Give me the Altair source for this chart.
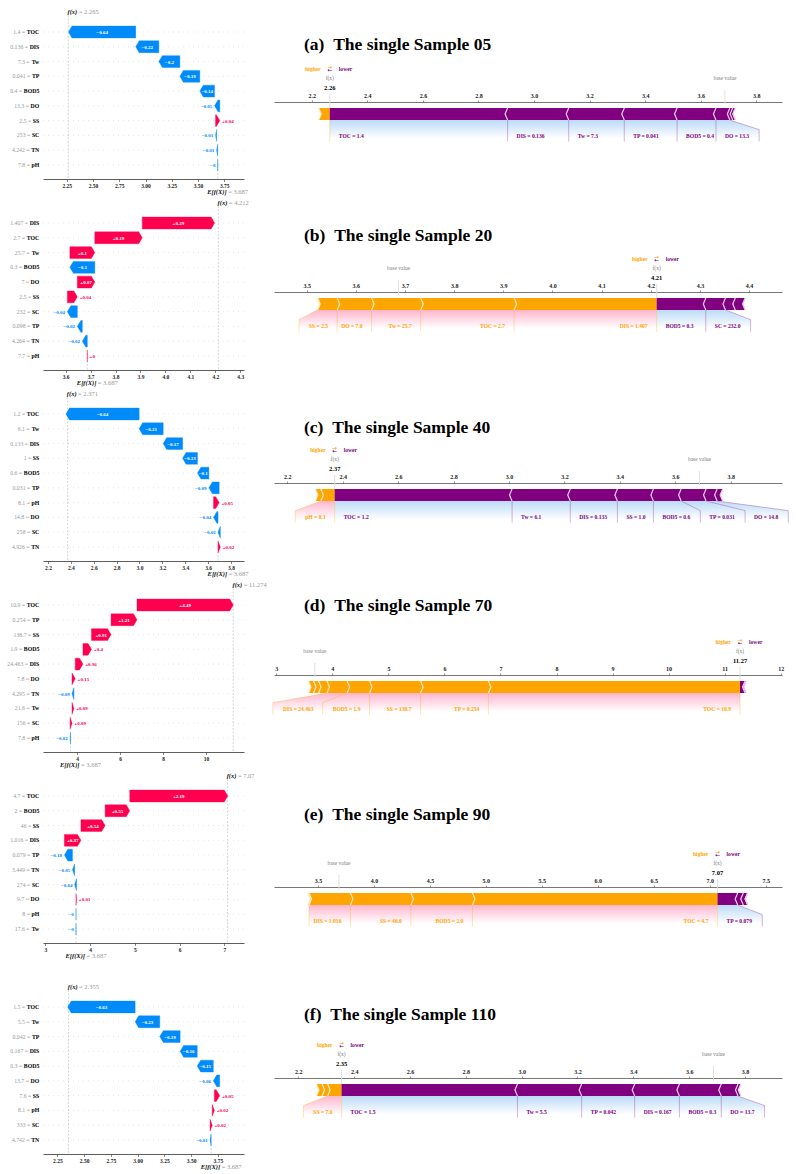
import math

import altair as alt
import pandas as pd

# ------------------------------------------------------------------ data
BASE_VALUE = 3.687  # E[f(X)], shared by every sample

# Sample 05
FEAT_05 = ["TOC", "DIS", "Tw", "TP", "BOD5", "DO", "SS", "SC", "TN", "pH"]
SHAP_05 = [-0.64, -0.22, -0.2, -0.19, -0.14, -0.05, 0.04, -0.01, -0.01, -0.0]
VALUE_05 = [1.4, 0.136, 7.3, 0.041, 0.4, 13.3, 2.5, 253.0, 4.242, 7.8]
FX_05 = 2.2648
WF_TICKS_05 = [2.25, 2.5, 2.75, 3.0, 3.25, 3.5, 3.75]
FP_TICKS_05 = [2.2, 2.4, 2.6, 2.8, 3.0, 3.2, 3.4, 3.6, 3.8]

# Sample 20
FEAT_20 = ["DIS", "TOC", "Tw", "BOD5", "DO", "SS", "SC", "TP", "TN", "pH"]
SHAP_20 = [0.29, 0.19, 0.1, -0.1, 0.07, 0.04, -0.04, -0.02, -0.02, 0.0]
VALUE_20 = [1.407, 2.7, 25.7, 0.3, 7.0, 2.5, 232.0, 0.098, 4.264, 7.7]
FX_20 = 4.212
WF_TICKS_20 = [3.6, 3.7, 3.8, 3.9, 4.0, 4.1, 4.2, 4.3]
FP_TICKS_20 = [3.5, 3.6, 3.7, 3.8, 3.9, 4.0, 4.1, 4.2, 4.3, 4.4]

# Sample 40
FEAT_40 = ["TOC", "Tw", "DIS", "SS", "BOD5", "TP", "pH", "DO", "SC", "TN"]
SHAP_40 = [-0.64, -0.21, -0.17, -0.13, -0.1, -0.09, 0.05, -0.04, -0.02, 0.02]
VALUE_40 = [1.2, 6.1, 0.133, 1.0, 0.6, 0.031, 8.1, 14.8, 258.0, 4.926]
FX_40 = 2.371
WF_TICKS_40 = [2.2, 2.4, 2.6, 2.8, 3.0, 3.2, 3.4, 3.6, 3.8]
FP_TICKS_40 = [2.2, 2.4, 2.6, 2.8, 3.0, 3.2, 3.4, 3.6, 3.8]

# Sample 70
FEAT_70 = ["TOC", "TP", "SS", "BOD5", "DIS", "DO", "TN", "Tw", "SC", "pH"]
SHAP_70 = [4.49, 1.21, 0.91, 0.4, 0.36, 0.15, -0.09, 0.09, 0.09, -0.02]
VALUE_70 = [10.9, 0.254, 138.7, 1.9, 24.463, 7.8, 4.295, 21.6, 156.0, 7.8]
FX_70 = 11.274
WF_TICKS_70 = [4, 6, 8, 10]
FP_TICKS_70 = [3, 4, 5, 6, 7, 8, 9, 10, 11, 12]

# Sample 90
FEAT_90 = ["TOC", "BOD5", "SS", "DIS", "TP", "TN", "SC", "DO", "pH", "Tw"]
SHAP_90 = [2.19, 0.55, 0.54, 0.37, -0.18, -0.05, -0.04, 0.01, -0.0, -0.0]
VALUE_90 = [4.7, 2.0, 46.0, 1.016, 0.079, 3.449, 274.0, 9.7, 8.0, 17.6]
FX_90 = 7.07
WF_TICKS_90 = [3, 4, 5, 6, 7]
FP_TICKS_90 = [3.5, 4.0, 4.5, 5.0, 5.5, 6.0, 6.5, 7.0, 7.5]

# Sample 110
FEAT_110 = ["TOC", "Tw", "TP", "DIS", "BOD5", "DO", "SS", "pH", "SC", "TN"]
SHAP_110 = [-0.63, -0.23, -0.19, -0.16, -0.15, -0.06, 0.05, 0.02, 0.02, -0.01]
VALUE_110 = [1.5, 5.5, 0.042, 0.167, 0.3, 13.7, 7.6, 8.1, 333.0, 4.742]
FX_110 = 2.355
WF_TICKS_110 = [2.25, 2.5, 2.75, 3.0, 3.25, 3.5, 3.75, 4.0]
FP_TICKS_110 = [2.2, 2.4, 2.6, 2.8, 3.0, 3.2, 3.4, 3.6, 3.8]

SAMPLES = [
    ("(a)", "05", FEAT_05, SHAP_05, VALUE_05, FX_05, WF_TICKS_05, FP_TICKS_05),
    ("(b)", "20", FEAT_20, SHAP_20, VALUE_20, FX_20, WF_TICKS_20, FP_TICKS_20),
    ("(c)", "40", FEAT_40, SHAP_40, VALUE_40, FX_40, WF_TICKS_40, FP_TICKS_40),
    ("(d)", "70", FEAT_70, SHAP_70, VALUE_70, FX_70, WF_TICKS_70, FP_TICKS_70),
    ("(e)", "90", FEAT_90, SHAP_90, VALUE_90, FX_90, WF_TICKS_90, FP_TICKS_90),
    ("(f)", "110", FEAT_110, SHAP_110, VALUE_110, FX_110, WF_TICKS_110, FP_TICKS_110),
]

# ------------------------------------------------------------------ style and layout
SERIF = "Liberation Serif"
ARROW_FONT = "DejaVu Sans"
RED, BLUE = "#FF0051", "#008BFB"            # waterfall arrows
ORANGE, PURPLE = "#FFA500", "#800080"       # force bar
ORANGE_SEP, PURPLE_SEP = "#FFEBC8", "#EBCDEB"
PINK_SHADE, BLUE_SHADE = "#FFB6CD", "#BCDBF7"
GREY_TEXT = "#999999"

WF_WIDTH, WF_HEIGHT = 201, 164
WF_ROW_TOP, WF_ROW_BOTTOM = -1.15, 9.95
WF_HALF = 0.4                 # half arrow height, in rows
WF_HEAD_PX = 3.5
WF_BAR_FONT = 5.0
WF_LABEL_FONT = 5.8
WF_XDOMAIN = [(2.0245, 3.9374), (3.5094, 4.3148), (2.156, 3.914),
              (2.404, 11.777), (2.949, 7.44), (2.116, 3.994)]
WF_TICK_FORMAT = [".2f", ".1f", ".1f", "d", "d", ".2f"]
WF_EXTRA_TOP = [0, 0, 0, 0, 0, 20]
WF_SPACING = 27

FP_WIDTH = 508
FP_PX_PER_Y = 120
FP_XDOMAIN = [(2.064, 3.8925), (3.4335, 4.467), (2.152, 3.985),
              (2.959, 12.023), (3.107, 7.646), (2.113, 3.9325)]
FP_TICK_FORMAT = [".1f", ".1f", ".1f", "d", ".1f", ".1f"]
FP_ABOVE_AXIS = [87, 87, 87, 87, 107, 107]
FP_HEIGHT = [190, 191, 192, 192, 191, 130]
FP_TITLE_Y = [30, 31, 32, 18, 35, 44]
FP_TEXT_OFFSET_PX = 9
FP_LABEL_FONT = 5.6
MIN_PERC = 0.027
BAR_W = 0.1

BOLD_EM = {" ": 0.25, ".": 0.25, "=": 0.57, "+": 0.57, "\u2212": 0.57, "-": 0.333,
           "B": 0.667, "C": 0.722, "D": 0.722, "H": 0.778, "I": 0.389, "N": 0.722,
           "O": 0.778, "P": 0.611, "S": 0.556, "T": 0.667, "p": 0.556, "w": 0.722}


def text_px(s, size):
    return size * sum(BOLD_EM.get(c, 0.5) for c in s)


def strip_zeros(s):
    if "." in s:
        s = s.rstrip("0").rstrip(".")
    return s


def shap_label(v):
    s = strip_zeros("%+0.02f" % v)
    return "\u2212" + s[1:] if s.startswith("-") else s


def is_negative(v):
    return math.copysign(1.0, v) < 0


# ------------------------------------------------------------------ waterfall
def waterfall_panel(i):
    tag, sample, feats, shap, vals, fx, ticks, _ = SAMPLES[i]
    xmin, xmax = WF_XDOMAIN[i]
    ppu = WF_WIDTH / (xmax - xmin)
    px_row = WF_HEIGHT / (WF_ROW_BOTTOM - WF_ROW_TOP)
    height = WF_HEIGHT + WF_EXTRA_TOP[i]
    ytop = WF_ROW_TOP - WF_EXTRA_TOP[i] / px_row
    n = len(feats)

    xs = alt.Scale(domain=[xmin, xmax], nice=False, zero=False)
    ys = alt.Scale(domain=[ytop, WF_ROW_BOTTOM], nice=False, zero=False, reverse=True)
    xaxis = alt.Axis(values=ticks, format=WF_TICK_FORMAT[i], title=None, grid=False,
                     labelFont=SERIF, labelFontSize=5.5, labelFontWeight="bold",
                     labelColor="#222222", labelPadding=1.5, labelFlush=False,
                     domainColor="#333333", domainWidth=0.8, tickColor="#333333",
                     tickSize=2.5, tickWidth=0.6)

    def X(f):
        return alt.X(f"{f}:Q", scale=xs, axis=xaxis, stack=None)

    def Y(f):
        return alt.Y(f"{f}:Q", scale=ys, axis=None, stack=None)

    # bars accumulate from the base value at the bottom row upwards
    starts, ends = [0.0] * n, [0.0] * n
    run = BASE_VALUE
    for k in range(n - 1, -1, -1):
        starts[k] = run
        run += shap[k]
        ends[k] = run

    head = WF_HEAD_PX / ppu
    arrows, t_in, t_pos, t_neg, ylab = [], [], [], [], []
    for k in range(n):
        v = shap[k]
        neg = is_negative(v)
        lo, hi = min(starts[k], ends[k]), max(starts[k], ends[k])
        hl = min(hi - lo, head)
        if neg:
            pts = [(lo, k, k), (lo + hl, k - WF_HALF, k + WF_HALF), (hi, k - WF_HALF, k + WF_HALF)]
        else:
            pts = [(lo, k - WF_HALF, k + WF_HALF), (hi - hl, k - WF_HALF, k + WF_HALF), (hi, k, k)]
        for x, y1, y2 in pts:
            arrows.append({"feature": feats[k], "sign": "neg" if neg else "pos",
                           "x": x, "y": y1, "y2": y2})
        label = shap_label(v)
        if (hi - lo) * ppu > text_px(label, WF_BAR_FONT) + 1:
            t_in.append({"x": (lo + hi) / 2, "y": k, "label": label})
        elif neg:
            t_neg.append({"x": lo - 2.3 / ppu, "y": k, "label": label})
        else:
            t_pos.append({"x": hi + 2.3 / ppu, "y": k, "label": label})
        name_px = text_px(feats[k], WF_LABEL_FONT)
        ylab.append({"x": xmin - 3.7 / ppu, "y": k, "name": feats[k],
                     "vx": xmin - (3.7 + name_px + 1.6) / ppu,
                     "val": f"{strip_zeros('%0.03f' % vals[k])} ="})

    layers = []
    layers.append(
        alt.Chart(pd.DataFrame({"y": list(range(n))}))
        .mark_rule(color="#cccccc", strokeWidth=0.5, strokeDash=[1, 4])
        .encode(y=Y("y"))
    )
    vlines = pd.DataFrame({
        "x": [fx, BASE_VALUE],
        "y": [WF_ROW_TOP, WF_ROW_BOTTOM - (WF_ROW_BOTTOM - WF_ROW_TOP) / n],
        "y2": [WF_ROW_BOTTOM, WF_ROW_BOTTOM],
    })
    layers.append(
        alt.Chart(vlines).mark_rule(color="#bbbbbb", strokeWidth=0.6, strokeDash=[2, 1.5])
        .encode(x=X("x"), y=Y("y"), y2="y2")
    )
    arrows_df = pd.DataFrame(arrows)
    for sign, col in (("pos", RED), ("neg", BLUE)):
        sub = arrows_df[arrows_df["sign"] == sign]
        if len(sub):
            layers.append(
                alt.Chart(sub).mark_area(orient="vertical", color=col, stroke=col, strokeWidth=0.4)
                .encode(x=X("x"), y=Y("y"), y2="y2", detail="feature:N")
            )
    for rows, align, color in ((t_in, "center", "white"), (t_pos, "left", RED), (t_neg, "right", BLUE)):
        if rows:
            layers.append(
                alt.Chart(pd.DataFrame(rows))
                .mark_text(align=align, baseline="middle", font=SERIF, fontSize=WF_BAR_FONT,
                           fontWeight="bold", color=color)
                .encode(x=X("x"), y=Y("y"), text="label:N")
            )
    ylab_df = pd.DataFrame(ylab)
    layers.append(
        alt.Chart(ylab_df).mark_text(align="right", baseline="middle", font=SERIF,
                                     fontSize=WF_LABEL_FONT, color=GREY_TEXT)
        .encode(x=X("vx"), y=Y("y"), text="val:N")
    )
    layers.append(
        alt.Chart(ylab_df).mark_text(align="right", baseline="middle", font=SERIF,
                                     fontSize=WF_LABEL_FONT, fontWeight="bold", color="black")
        .encode(x=X("x"), y=Y("y"), text="name:N")
    )
    # f(x) on top, E[f(X)] below the axis
    ends_df = pd.DataFrame({
        "x": [fx, BASE_VALUE],
        "y": [WF_ROW_TOP, WF_ROW_BOTTOM],
        "sym": ["f(x)", "E[f(X)]"],
        "val": [f"= {strip_zeros('%0.03f' % fx)}", f"= {strip_zeros('%0.03f' % BASE_VALUE)}"],
    })
    for row, dy in ((0, -3.5), (1, 12.5)):
        sub = ends_df.iloc[[row]]
        layers.append(
            alt.Chart(sub).mark_text(align="right", baseline="middle", font=SERIF, fontSize=6.5,
                                     fontStyle="italic", fontWeight="bold", color="#111111",
                                     dx=9, dy=dy)
            .encode(x=X("x"), y=Y("y"), text="sym:N")
        )
        layers.append(
            alt.Chart(sub).mark_text(align="left", baseline="middle", font=SERIF, fontSize=6.5,
                                     color=GREY_TEXT, dx=10.5, dy=dy)
            .encode(x=X("x"), y=Y("y"), text="val:N")
        )
    return alt.layer(*layers).properties(width=WF_WIDTH, height=height)


# ------------------------------------------------------------------ force plot
def force_side_labels(fx, items, positive, ppu, xmax, total):
    sign = 1 if positive else -1
    off = FP_TEXT_OFFSET_PX / ppu
    start = pre = box_end = fx
    cur = fx
    labels, lines = [], []
    if positive:
        lines.append([(fx, 0.0), (fx, -0.18)])
    for name, v, val in items:
        end = cur - abs(v) if positive else cur + abs(v)
        cur = end
        if abs(end - pre) / total < MIN_PERC:
            break
        text = f"{name} = {val!r}"
        tw = (text_px(text, FP_LABEL_FONT) + 1.0) / ppu
        anchor = start - sign * off
        edge = anchor - sign * tw
        if edge > xmax:
            break
        labels.append({"x": anchor, "y": -0.15, "label": text})
        if sign * edge > sign * end:
            lines.append([(end, 0.0), (end, -0.18)])
            start = box_end = end
        else:
            box_end = edge - sign * off
            lines.append([(end, 0.0), (box_end, -0.08), (box_end, -0.18)])
            start = box_end
        pre = end
    shade = [{"y": 0.0, "x": fx, "x2": pre},
             {"y": -0.08, "x": fx, "x2": box_end},
             {"y": -0.2, "x": fx, "x2": box_end}]
    return labels, lines, shade, len(labels) > 0


def force_panel(i):
    tag, sample, feats, shap, vals, fx, _, ticks = SAMPLES[i]
    xmin, xmax = FP_XDOMAIN[i]
    ppu = FP_WIDTH / (xmax - xmin)
    above = FP_ABOVE_AXIS[i]
    ytop = 0.15 + above / FP_PX_PER_Y
    ybot = ytop - FP_HEIGHT[i] / FP_PX_PER_Y

    xs = alt.Scale(domain=[xmin, xmax], nice=False, zero=False)
    ys = alt.Scale(domain=[ybot, ytop], nice=False, zero=False)
    xaxis = alt.Axis(orient="top", offset=-above, values=ticks, format=FP_TICK_FORMAT[i],
                     title=None, grid=False, labelFont=SERIF, labelFontSize=6,
                     labelFontWeight="bold", labelColor="#222222", labelPadding=2,
                     labelFlush=False, domainColor="#555555", domainWidth=0.8,
                     tickColor="#555555", tickSize=2, tickWidth=0.6)

    def X(f):
        return alt.X(f"{f}:Q", scale=xs, axis=xaxis, stack=None)

    def Y(f):
        return alt.Y(f"{f}:Q", scale=ys, axis=None, stack=None)

    items = list(zip(feats, shap, vals))
    pos = [t for t in items if not is_negative(t[1])]
    neg = [t for t in items if is_negative(t[1])]
    total = sum(abs(v) for v in shap)
    wsep = (xmax - xmin) / 200
    steps = ((0.0, 0.0), (BAR_W / 2, 1.0), (BAR_W, 0.0))

    bars, seps = [], []
    edge = fx
    for k, (name, v, val) in enumerate(pos):
        left, right = edge - abs(v), edge
        edge = left
        ind_l = wsep if k == 0 else 0.9 * wsep
        ind_r = 0.0 if k == 0 else 0.9 * wsep
        for j, (yy, t) in enumerate(steps):
            bars.append({"seg": f"p{k}", "side": "pos", "y": yy,
                         "x": left + ind_l * t, "x2": right + ind_r * t})
            seps.append({"seg": f"p{k}", "side": "pos", "y": yy, "x": left + wsep * t, "order": j})
    edge = fx
    for k, (name, v, val) in enumerate(neg):
        left, right = edge, edge + abs(v)
        edge = right
        ind_l = 0.0 if k == 0 else -0.9 * wsep
        ind_r = -wsep if k == 0 else -0.9 * wsep
        for j, (yy, t) in enumerate(steps):
            bars.append({"seg": f"n{k}", "side": "neg", "y": yy,
                         "x": left + ind_l * t, "x2": right + ind_r * t})
            seps.append({"seg": f"n{k}", "side": "neg", "y": yy, "x": right - wsep * t, "order": j})

    lab_p, lines_p, shade_p, has_p = force_side_labels(fx, pos, True, ppu, xmax, total)
    lab_n, lines_n, shade_n, has_n = force_side_labels(fx, neg, False, ppu, xmax, total)

    layers = []
    for has, shade, col in ((has_p, shade_p, PINK_SHADE), (has_n, shade_n, BLUE_SHADE)):
        if has:
            grad = alt.LinearGradient(
                gradient="linear", x1=0, x2=0, y1=0, y2=1,
                stops=[alt.GradientStop(color=col, offset=0),
                       alt.GradientStop(color="#FFFFFF", offset=0.775)])
            layers.append(
                alt.Chart(pd.DataFrame(shade)).mark_area(orient="horizontal", color=grad)
                .encode(y=Y("y"), x=X("x"), x2="x2")
            )
    for group, col in ((lines_p, ORANGE), (lines_n, PURPLE)):
        rows = [{"id": m, "x": x, "y": y, "order": j}
                for m, poly in enumerate(group) for j, (x, y) in enumerate(poly)]
        if rows:
            layers.append(
                alt.Chart(pd.DataFrame(rows)).mark_line(strokeWidth=0.6, opacity=0.5, color=col)
                .encode(x=X("x"), y=Y("y"), detail="id:N", order="order:Q")
            )
    guide = pd.DataFrame({"x": [BASE_VALUE, fx], "y": [0.13, 0.0], "y2": [0.25, 0.24]})
    layers.append(
        alt.Chart(guide).mark_rule(color="#DDDDDD", strokeWidth=0.9)
        .encode(x=X("x"), y=Y("y"), y2="y2")
    )
    bars_df = pd.DataFrame(bars)
    seps_df = pd.DataFrame(seps)
    for side, col in (("pos", ORANGE), ("neg", PURPLE)):
        sub = bars_df[bars_df["side"] == side]
        if len(sub):
            layers.append(
                alt.Chart(sub).mark_area(orient="horizontal", color=col)
                .encode(y=Y("y"), x=X("x"), x2="x2", detail="seg:N")
            )
    for side, col in (("pos", ORANGE_SEP), ("neg", PURPLE_SEP)):
        sub = seps_df[seps_df["side"] == side]
        if len(sub):
            layers.append(
                alt.Chart(sub).mark_line(strokeWidth=1.2, color=col)
                .encode(x=X("x"), y=Y("y"), detail="seg:N", order="order:Q")
            )
    for rows, align, color in ((lab_p, "right", ORANGE), (lab_n, "left", PURPLE)):
        if rows:
            layers.append(
                alt.Chart(pd.DataFrame(rows))
                .mark_text(align=align, baseline="alphabetic", font=SERIF,
                           fontSize=FP_LABEL_FONT, fontWeight="bold", color=color)
                .encode(x=X("x"), y=Y("y"), text="label:N")
            )

    out_df = pd.DataFrame({"x": [fx], "y": [0.25], "box_y": [0.25 + 1.5 / FP_PX_PER_Y],
                           "val": ["{0:.2f}".format(fx)], "fy": [0.33], "name": ["f(x)"]})
    layers.append(
        alt.Chart(out_df).mark_point(shape="M-1,-0.7L1,-0.7L1,0.7L-1,0.7Z", filled=True,
                                     color="white", opacity=1, size=250, strokeWidth=0)
        .encode(x=X("x"), y=Y("box_y"))
    )
    layers.append(
        alt.Chart(out_df).mark_text(align="center", baseline="alphabetic", font=SERIF,
                                    fontSize=6.5, fontWeight="bold", color="black")
        .encode(x=X("x"), y=Y("y"), text="val:N")
    )
    layers.append(
        alt.Chart(out_df).mark_text(align="center", baseline="alphabetic", font=SERIF,
                                    fontSize=5.5, color="#808080")
        .encode(x=X("x"), y=Y("fy"), text="name:N")
    )
    base_df = pd.DataFrame({"x": [BASE_VALUE], "y": [0.33], "t": ["base value"]})
    layers.append(
        alt.Chart(base_df).mark_text(align="center", baseline="alphabetic", font=SERIF,
                                     fontSize=5.5, color="#808080")
        .encode(x=X("x"), y=Y("y"), text="t:N")
    )
    off = FP_TEXT_OFFSET_PX / ppu
    legend_df = pd.DataFrame({
        "x": [fx - off, fx + off, fx, fx],
        "y": [0.405, 0.405, 0.425, 0.4],
        "t": ["higher", "lower", "\u2192", "\u2190"],
    })
    legend_marks = (
        (0, "right", SERIF, ORANGE), (1, "left", SERIF, PURPLE),
        (2, "center", ARROW_FONT, ORANGE), (3, "center", ARROW_FONT, PURPLE),
    )
    for row, align, font, col in legend_marks:
        layers.append(
            alt.Chart(legend_df.iloc[[row]])
            .mark_text(align=align, baseline="alphabetic", font=font, fontSize=5.6,
                       fontWeight="bold", color=col)
            .encode(x=X("x"), y=Y("y"), text="t:N")
        )
    # panel heading
    title_df = pd.DataFrame({"t": [f"{tag}\u2002The single Sample {sample}"]})
    layers.append(
        alt.Chart(title_df).mark_text(align="left", baseline="middle", font=SERIF,
                                      fontSize=17.5, fontWeight="bold", color="black")
        .encode(x=alt.value(30), y=alt.value(FP_TITLE_Y[i]), text="t:N")
    )
    return alt.layer(*layers).properties(width=FP_WIDTH, height=FP_HEIGHT[i])


left = alt.vconcat(*[waterfall_panel(i) for i in range(len(SAMPLES))],
                   spacing=WF_SPACING, bounds="flush")
right = alt.vconcat(*[force_panel(i) for i in range(len(SAMPLES))],
                    spacing=0, bounds="flush")

chart = (
    alt.hconcat(left, right, spacing=4)
    .properties(padding={"left": 7, "top": 8, "right": 0, "bottom": 0})
    .configure(font=SERIF)
    .configure_view(stroke=None)
)

chart.save("out.html", embed_options={"renderer": "svg", "actions": False})
